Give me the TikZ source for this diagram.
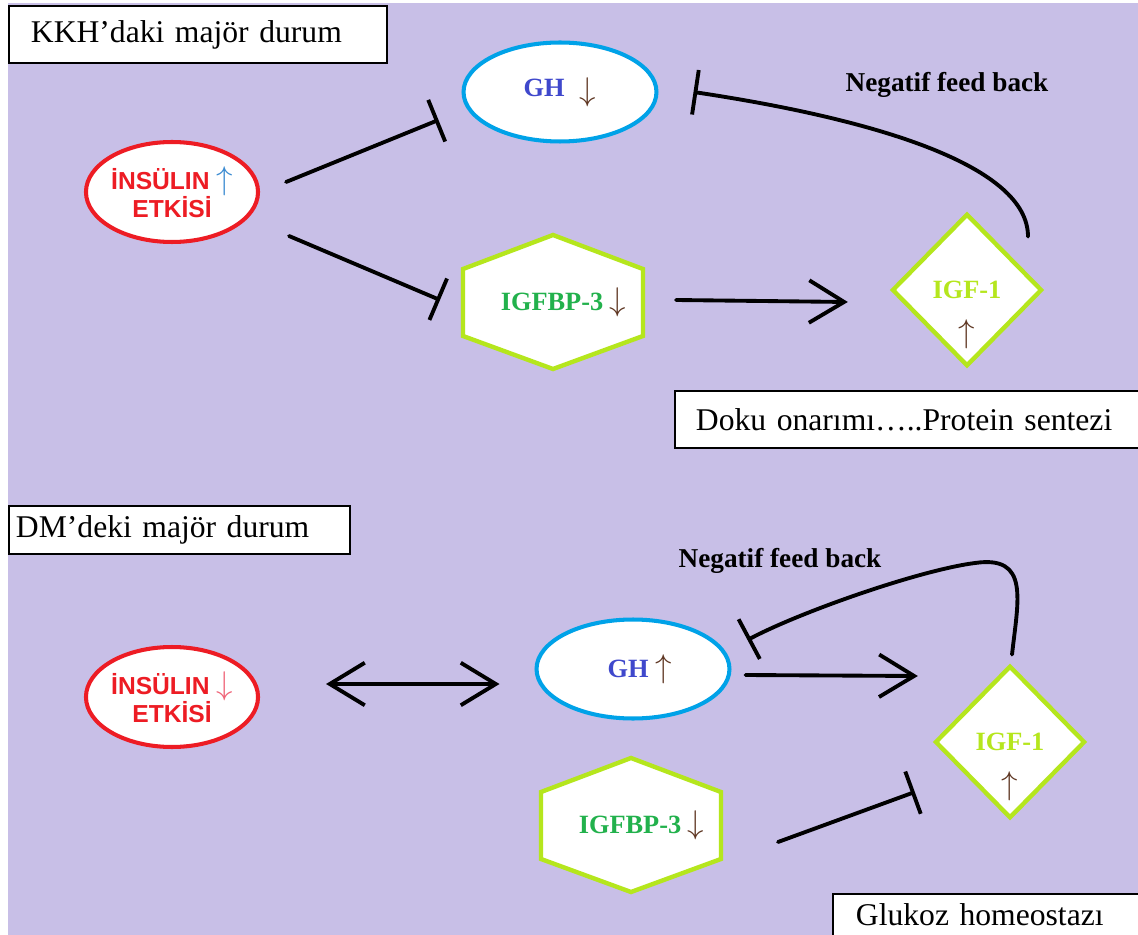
\documentclass[tikz,border=0pt]{standalone}
\usepackage{fontspec}
\setmainfont{Liberation Serif}
\newfontfamily\insfont{Liberation Sans}
\usepackage{xcolor}
\usepackage{tikz}
\definecolor{lavender}{RGB}{200, 191, 231}
\definecolor{insred}{RGB}{237, 28, 36}
\definecolor{ghblue}{RGB}{0, 162, 232}
\definecolor{ghtext}{RGB}{63, 72, 204}
\definecolor{limegreen}{RGB}{181, 230, 29}
\definecolor{bpgreen}{RGB}{34, 177, 76}
\definecolor{arrowbrown}{RGB}{95, 55, 35}
\definecolor{arrowblue}{RGB}{60, 140, 210}
\definecolor{arrowpink}{RGB}{240, 100, 120}
\usetikzlibrary{shapes.geometric, arrows.meta, positioning, calc}

% hexagon with pointed top around a coordinate
\newcommand{\hexshape}[1]{%
  \filldraw[hexline] ($(#1)+(0,-67)$) -- ($(#1)+(90,-33)$) -- ($(#1)+(90,34)$)
    -- ($(#1)+(0,67)$) -- ($(#1)+(-90,34)$) -- ($(#1)+(-90,-33)$) -- cycle;}
% thin arrow glyph in a colour
\newcommand{\arr}[2]{{\color{#1}\scalebox{1.3}{$#2$}}}

\begin{document}
\begin{tikzpicture}[
    x=0.02cm, y=-0.02cm,
    insnode/.style={ellipse, draw=insred, fill=white, line width=2.3pt,
                    minimum width=3.44cm, minimum height=2cm, inner sep=0pt,
                    align=center, text=insred,
                    font=\insfont\bfseries\fontsize{14}{16}\selectfont},
    ghnode/.style={ellipse, draw=ghblue, fill=white, line width=2.3pt,
                   minimum width=3.86cm, minimum height=1.98cm, inner sep=0pt,
                   text=ghtext, font=\bfseries\fontsize{15}{17}\selectfont},
    hexline/.style={draw=limegreen, fill=white, line width=2.5pt, line join=miter},
    bpnode/.style={text=bpgreen, font=\bfseries\fontsize{15}{17}\selectfont},
    igfnode/.style={diamond, draw=limegreen, fill=white, line width=2.5pt,
                    minimum width=3cm, minimum height=3.05cm, inner sep=0pt,
                    text=limegreen, font=\bfseries\fontsize{15}{17}\selectfont,
                    label={[inner sep=0pt, yshift=-25pt, font=\fontsize{15}{17}\selectfont]center:\arr{arrowbrown}{\uparrow}}},
    textbox/.style={draw=black, fill=white, line width=1.1pt, anchor=north west,
                    align=left, inner ysep=0pt, font=\fontsize{18}{20}\selectfont},
    fblabel/.style={font=\bfseries\fontsize{15.5}{17}\selectfont},
    conn/.style={line width=2.2pt, line cap=round},
    inhibit/.style={conn, -{Bar[width=0.9cm, line width=2.2pt]}},
    activate/.style={conn, -{Straight Barb[length=0.7cm, width=0.85cm]}},
    mutual/.style={conn, {Straight Barb[length=0.7cm, width=0.85cm]}-{Straight Barb[length=0.7cm, width=0.85cm]}}
]
    \useasboundingbox (0,0) rectangle (1138,935);
    \fill[lavender] (8,3) rectangle (1138,935);

    % Headings
    \node[textbox, minimum width=7.56cm, minimum height=1.14cm, text width=6.68cm,
          inner xsep=0.44cm] (kkh) at (8,5) {KKH’daki majör durum};
    \node[textbox, minimum width=6.82cm, minimum height=0.96cm, text width=6.54cm,
          inner xsep=0.14cm] (dm) at (8,505) {DM’deki majör durum};
    \node[textbox, minimum width=9.28cm, minimum height=1.14cm, text width=8.44cm,
          inner xsep=0.42cm] (doku) at (674,390) {Doku onarımı…..Protein sentezi};
    \node[textbox, minimum width=6.12cm, minimum height=0.84cm, text width=5.2cm,
          inner xsep=0.46cm] (glu) at (832,893) {Glukoz homeostazı};

    % KKH
    \node[insnode] (ins1) at (172,192) {İNSÜLIN \arr{arrowblue}{\uparrow}\\ETKİSİ\hspace{0.8em}};
    \node[ghnode] (gh1) at (560,92) {GH\,\, \raisebox{-0.3ex}{\arr{arrowbrown}{\downarrow}}};
    \coordinate (bpc1) at (553,302);
    \hexshape{bpc1}
    \node[bpnode] (bp1) at (bpc1) {\hspace{0.8em}IGFBP-3 \arr{arrowbrown}{\downarrow}};
    \node[igfnode] (igf1) at (967,290) {IGF-1};
    \node[fblabel] (fb1) at (947,85) {Negatif feed back};

    \draw[inhibit] ($(ins1.east)+(26,-10)$) -- ($(gh1.west)+(-23,28)$);
    \draw[inhibit] ($(ins1.east)+(29,44)$) -- ($(bpc1)+(-113,-2)$);
    \draw[activate] ($(bpc1)+(123,-2)$) -- ($(igf1.west)+(-42,12)$);
    \draw[inhibit] ($(igf1.north)+(61,25)$) .. controls ($(igf1.north)+(61,-45)$)
        and (880,120) .. ($(gh1.east)+(35,0)$);

    % DM
    \node[insnode] (ins2) at (172,697) {İNSÜLIN \arr{arrowpink}{\downarrow}\\ETKİSİ\hspace{0.8em}};
    \node[ghnode] (gh2) at (633,669) {\hspace{0.5em}GH \arr{arrowbrown}{\uparrow}};
    \coordinate (bpc2) at (631,825);
    \hexshape{bpc2}
    \node[bpnode] (bp2) at (bpc2) {\hspace{0.8em}IGFBP-3 \arr{arrowbrown}{\downarrow}};
    \node[igfnode] (igf2) at (1010,742) {IGF-1};
    \node[fblabel] (fb2) at (780,561) {Negatif feed back};

    \draw[mutual] ($(ins2.east)+(66,-13)$) -- ($(gh2.west)+(-35,15)$);
    \draw[activate] ($(gh2.east)+(14,6)$) -- ($(igf2.west)+(-15,-66)$);
    \draw[inhibit] ($(igf2.north)+(2,-9)$) .. controls (1018,600) and (1030,555) .. (975,563)
        .. controls (920,570) and (800,612) .. ($(gh2.east)+(16,-29)$);
    \draw[inhibit] ($(bpc2)+(147,17)$) -- ($(igf2.west)+(-18,50)$);
\end{tikzpicture}
\end{document}
